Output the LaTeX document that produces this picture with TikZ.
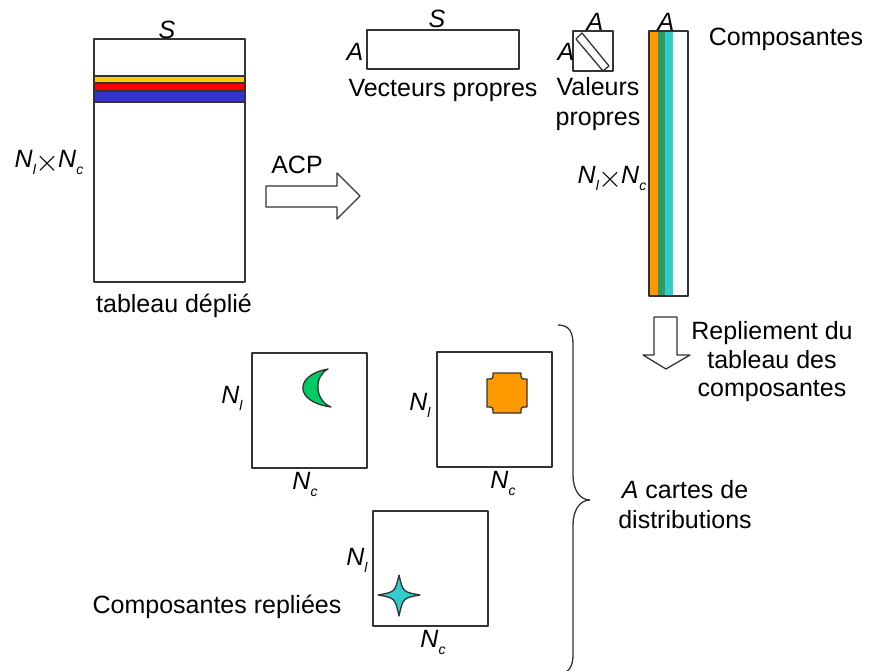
\documentclass[tikz,border=0pt]{standalone}
\usepackage{fontspec}
\setmainfont{Liberation Sans}
\definecolor{jaune}{HTML}{FFCC00}
\definecolor{rouge}{HTML}{FF0000}
\definecolor{bleu}{HTML}{3333CC}
\definecolor{orange}{HTML}{FF9900}
\definecolor{vertf}{HTML}{339966}
\definecolor{cyan}{HTML}{33CCCC}
\definecolor{vert}{HTML}{00CC66}
\newcommand{\idx}[2]{\textit{#1}\raisebox{-7pt}{\fontsize{14}{14}\selectfont\textit{#2}}}
\newcommand{\NlNc}{\idx{N}{l}\kern-1pt\raisebox{-4pt}{\resizebox{!}{18pt}{$\times$}}\kern-1pt\idx{N}{c}}
\tikzset{
  lbl/.style={inner sep=0pt, anchor=base},
  trait/.style={draw=black!80, line width=1.3pt},
}
\begin{document}
\begin{tikzpicture}[x=1pt, y=-1pt, line join=round, font=\fontsize{25}{30}\selectfont]
		\useasboundingbox (0,0) rectangle (869,670);
		\path
		(94,39) coordinate (T1) (245,282) coordinate (T2)
		(367,30) coordinate (V1) (519,69) coordinate (V2)
		(573,31) coordinate (L1) (613,71) coordinate (L2)
		(649,31) coordinate (C1) (688,296) coordinate (C2)
		;
		% tableau deplie
		\draw[trait, fill=white] (T1) rectangle (T2);
		\foreach \c/\a/\b in {jaune/76/83, rouge/83/91, bleu/91/102}
		\draw[trait, fill=\c] (94,\a) rectangle (245,\b);
		\node[lbl] (sT) at (167,38) {\textit{S}};
		\node[lbl] (nT) at (49,167) {\NlNc};
		\node[lbl] (depl) at (174,312) {tableau déplié};
		% ACP
		\draw[trait] (266,186)--(337,186)--(337,173)--(360,196)--(337,219)--(337,207)--(266,207)--cycle;
		\node[lbl] (acp) at (297,173) {ACP};
		% vecteurs et valeurs propres
		\draw[trait] (V1) rectangle (V2);
		\node[lbl] (sV) at (437,27) {\textit{S}};
		\node[lbl] (aV) at (355,60) {\textit{A}};
		\node[lbl] (vec) at (443,96) {Vecteurs propres};
		\draw[trait] (L1) rectangle (L2);
		\draw[trait] (582,33)--(609,66)--(603,71)--(576,39)--cycle;
		\node[lbl] (aL1) at (595,30) {\textit{A}};
		\node[lbl] (aL2) at (566,60) {\textit{A}};
		\node[lbl] (val1) at (598,95) {Valeurs};
		\node[lbl] (val2) at (598,125) {propres};
		% composantes
		\foreach \c/\a/\b in {orange/649/658, vertf/658/665, cyan/665/673}
		\fill[\c] (\a,31) rectangle (\b,296);
		\draw[trait] (C1) rectangle (C2);
		\node[lbl] (aC) at (666,30) {\textit{A}};
		\node[lbl] (comp) at (786,45) {Composantes};
		\node[lbl] (nC) at (612,183) {\NlNc};
		% repliement
		\draw[trait] (654,317)--(677,317)--(677,355)--(690,355)--(666,369)--(643,355)--(654,355)--cycle;
		\foreach \t [count=\i] in {Repliement du, tableau des, composantes}
		\node[lbl] (rep\i) at (772,{339.5+28.5*(\i-1)}) {\t};
		% cartes
		\foreach \n/\x/\y in {1/252/353, 2/437/352, 3/373/511}
		\draw[trait] (\x,\y) rectangle +(115,115);
		\node[lbl, anchor=base east] (nl1) at (243,403) {\idx{N}{l}};
		\node[lbl, anchor=base east] (nl2) at (431,410) {\idx{N}{l}};
		\node[lbl, anchor=base east] (nl3) at (368,565) {\idx{N}{l}};
		\node[lbl] (nc1) at (305,489) {\idx{N}{c}};
		\node[lbl] (nc2) at (503,488) {\idx{N}{c}};
		\node[lbl] (nc3) at (433,647) {\idx{N}{c}};
		\draw[trait, fill=vert] (328,369) .. controls (294,375) and (294,402) .. (331,407) .. controls (314,400) and (314,376) .. (328,369) -- cycle;
		\draw[trait, fill=orange] (493,373) -- (521,373) .. controls (521,379) .. (527,379) -- (527,407) .. controls (521,407) .. (521,413) -- (493,413) .. controls (493,407) .. (487,407) -- (487,379) .. controls (493,379) .. (493,373) -- cycle;
		\draw[trait, fill=cyan] (378,595) .. controls (395,592) .. (399,575) .. controls (403,592) .. (420,595) .. controls (403,598) .. (399,616) .. controls (395,598) .. (378,595) -- cycle;
		\node[lbl] (repl) at (217,613) {Composantes repliées};
		% accolade
		\draw[trait] (558,325) .. controls (570,325) and (573,333) .. (573,345) -- (573,475) .. controls (573,490) and (580,500) .. (590,500) .. controls (580,500) and (573,510) .. (573,525) -- (573,655) .. controls (573,664) and (570,670) .. (566,672);
		\node[lbl] (cart1) at (685,498) {\textit{A} cartes de};
		\node[lbl] (cart2) at (685,528) {distributions};
	\end{tikzpicture}
\end{document}
